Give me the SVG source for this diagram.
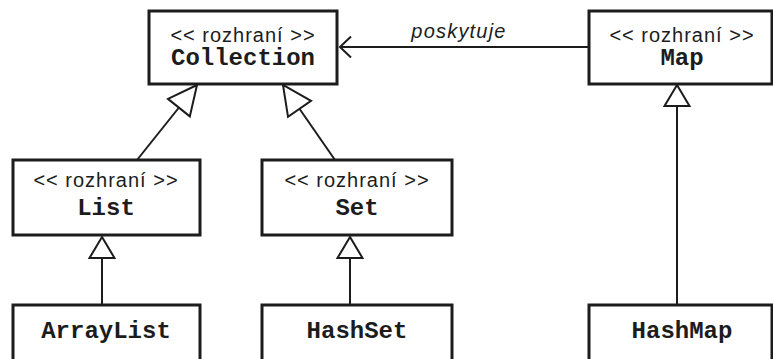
<svg xmlns="http://www.w3.org/2000/svg" width="773" height="359" viewBox="0 0 773 359">
<style>
.box{fill:#fff;stroke:#1c1c1c;stroke-width:3}
.st{font-family:"Liberation Sans",Arial,sans-serif;font-size:20px;letter-spacing:1px;fill:#1c1c1c;text-anchor:middle}
.nm{font-family:"Liberation Mono","Courier New",monospace;font-weight:bold;font-size:24px;fill:#1c1c1c;text-anchor:middle}
.lbl{font-family:"Liberation Sans",Arial,sans-serif;font-style:italic;font-size:20px;letter-spacing:1.2px;fill:#1c1c1c;text-anchor:middle}
.ln{fill:none;stroke:#1c1c1c;stroke-width:2}
</style>
<defs>
<marker id="gen" markerUnits="userSpaceOnUse" viewBox="-24 -15 27 30" refX="0" refY="0" markerWidth="27" markerHeight="30" orient="auto" overflow="visible">
<path d="M0,0 L-21,-12.5 L-21,12.5 Z" fill="#fff" stroke="#1c1c1c" stroke-width="2"/>
</marker>
<marker id="genL" markerUnits="userSpaceOnUse" viewBox="-32 -16 35 32" refX="0" refY="0" markerWidth="35" markerHeight="32" orient="auto" overflow="visible">
<path d="M0,0 L-29,-14 L-29,14 Z" fill="#fff" stroke="#1c1c1c" stroke-width="2"/>
</marker>
<marker id="open" markerUnits="userSpaceOnUse" viewBox="-14 -13 16 26" refX="0" refY="0" markerWidth="16" markerHeight="26" orient="auto" overflow="visible">
<path d="M-11,-10.5 L0,0 L-11,10.5" fill="none" stroke="#1c1c1c" stroke-width="2"/>
</marker>
</defs>
<rect width="773" height="359" fill="#fff"/>
<g id="connectors">
<path class="ln" d="M137,160 L197,85" marker-end="url(#genL)"/>
<path class="ln" d="M335,160 L283,85" marker-end="url(#genL)"/>
<path class="ln" d="M102,305 L102,237" marker-end="url(#gen)"/>
<path class="ln" d="M350,305 L350,237" marker-end="url(#gen)"/>
<path class="ln" d="M677,305 L677,85" marker-end="url(#gen)"/>
<path class="ln" d="M589,47 L340,47" marker-end="url(#open)"/>
<text class="lbl" x="459" y="38">poskytuje</text>
</g>
<g id="collection">
<rect class="box" x="149" y="11" width="188" height="73"/>
<text class="st" x="243" y="42">&lt;&lt; rozhraní &gt;&gt;</text>
<text class="nm" x="243" y="65">Collection</text>
</g>
<g id="map">
<rect class="box" x="589" y="11" width="183" height="73"/>
<text class="st" x="682" y="42">&lt;&lt; rozhraní &gt;&gt;</text>
<text class="nm" x="682" y="65">Map</text>
</g>
<g id="list">
<rect class="box" x="13" y="160" width="187" height="75"/>
<text class="st" x="106" y="187">&lt;&lt; rozhraní &gt;&gt;</text>
<text class="nm" x="106" y="215">List</text>
</g>
<g id="set">
<rect class="box" x="262" y="160" width="190" height="75"/>
<text class="st" x="357" y="187">&lt;&lt; rozhraní &gt;&gt;</text>
<text class="nm" x="357" y="215">Set</text>
</g>
<g id="arraylist">
<rect class="box" x="13" y="305" width="187" height="80"/>
<text class="nm" x="106" y="338">ArrayList</text>
</g>
<g id="hashset">
<rect class="box" x="262" y="305" width="190" height="80"/>
<text class="nm" x="357" y="338">HashSet</text>
</g>
<g id="hashmap">
<rect class="box" x="589" y="305" width="183" height="80"/>
<text class="nm" x="682" y="338">HashMap</text>
</g>
</svg>
